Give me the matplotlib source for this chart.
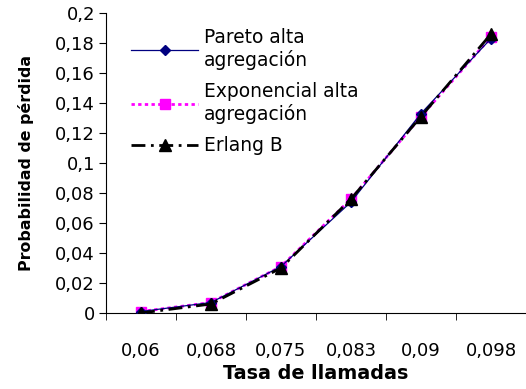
import matplotlib.pyplot as plt

categories = ['0,06', '0,068', '0,075', '0,083', '0,09', '0,098']
pareto = [0.001, 0.007, 0.031, 0.074, 0.133, 0.183]
exponencial = [0.001, 0.007, 0.031, 0.076, 0.131, 0.184]
erlang = [0.0, 0.006, 0.030, 0.076, 0.131, 0.186]
yticks = [0, 0.02, 0.04, 0.06, 0.08, 0.1, 0.12, 0.14, 0.16, 0.18, 0.2]
ytick_labels = ['0', '0,02', '0,04', '0,06', '0,08', '0,1', '0,12', '0,14', '0,16', '0,18', '0,2']

plt.rcParams['font.family'] = ['DejaVu Sans']

fig = plt.figure(figsize=(5.26, 3.89), dpi=100)
ax = fig.add_axes([106 / 526, 1 - 313 / 389, 420 / 526, 300 / 389])

x = range(len(categories))
ax.plot(x, pareto, color='#000080', lw=0.9, marker='D', ms=5,
        label='Pareto alta\nagregación', zorder=3)
ax.plot(x, exponencial, color='#ff00ff', lw=2, ls=(0, (1.2, 1.2)), marker='s', ms=7,
        label='Exponencial alta\nagregación', zorder=2)
ax.plot(x, erlang, color='black', lw=2, ls=(0, (5, 2, 1, 2)), marker='^', ms=8,
        label='Erlang B', zorder=4)

ax.set_xlim(-0.5, len(categories) - 0.5)
ax.set_ylim(0, 0.2)
ax.set_xticks(x)
ax.set_xticklabels(categories, fontsize=13)
ax.set_xticks([i + 0.5 for i in range(-1, len(categories))], minor=True)
ax.tick_params(axis='x', which='major', length=0, pad=21)
ax.tick_params(axis='x', which='minor', length=5, direction='out')
ax.set_yticks(yticks)
ax.set_yticklabels(ytick_labels, fontsize=13)
ax.tick_params(axis='y', length=5, direction='out', pad=3)

ax.spines['top'].set_visible(False)
ax.spines['right'].set_visible(False)

ax.set_xlabel('Tasa de llamadas', fontsize=13.8, fontweight='bold', labelpad=3)
ax.set_ylabel('Probabilidad de pérdida', fontsize=11.4, fontweight='bold', labelpad=15)

ax.legend(loc='upper left', bbox_to_anchor=(0.02, 1.007), frameon=False, fontsize=13.4,
          handlelength=3.6, handletextpad=0.3, labelspacing=0.65)

fig.savefig('out.png', dpi=100)
